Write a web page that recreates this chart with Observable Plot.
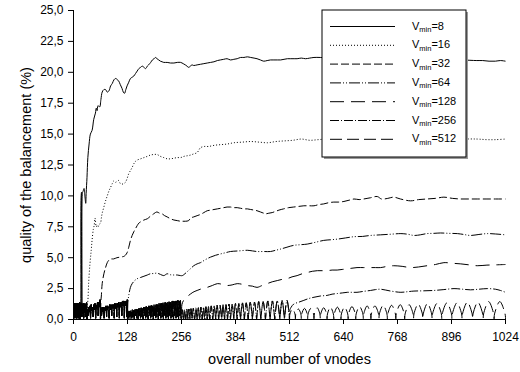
<!DOCTYPE html>
<html><head><meta charset="utf-8">
<script src="https://cdn.jsdelivr.net/npm/d3@7"></script>
<script src="https://cdn.jsdelivr.net/npm/@observablehq/plot@0.6"></script>
<style>body{margin:0;background:#fff;font-family:"Liberation Sans",Arial,sans-serif}</style>
</head><body><div id="chart"></div>
<script>
const xTicks = [0,128,256,384,512,640,768,896,1024];
const yTicks = [0,2.5,5,7.5,10,12.5,15,17.5,20,22.5,25];
const xTitle = "overall number of vnodes";
const yTitle = "quality of the balancement (%)";
const vmins = [8,16,32,64,128,256,512];
const takeoffs = [17,32,64,128,256,512,1025];
const dashes = ["none","1,2","8,3","11,2,1,2,1,2","14,7","9,2,1,2","12,5"];

// common low sawtooth band [x, y] (each series follows it until it takes off)
const band = [[0,0],[0.5,1.2],[1,0.3],[1.5,1.3],[2,0.6],[2.5,1.1],[3,0.1],[3.5,1.3],[4,0.8],[4.5,1.2],[5,0.2],[5.5,1.3],[6,0.7],[6.5,1.0],[7,0.1],[7.5,1.2],[8,0.5],[8.5,1.3],[9,0.2],[9.5,1.1],[10,0.8],[10.5,1.3],[11,0.1],[11.5,1.2],[12,0.6],[12.5,1.3],[13,0.3],[13.5,1.1],[14,0.9],[14.5,1.4],[15,0.2],[15.5,1.3],[16,0],
[17,1.1],[18,0.5],[19,1.3],[20,0.2],[21,1.2],[22,0.7],[23,1.3],[24,0.1],[25,1.0],[26,0.6],[27,1.3],[28,0.2],[29,1.2],[30,0.8],[31,1.4],[32,0],
[33,0.8],[34.5,0.3],[36,1.0],[37.5,0.6],[39,1.1],[40.5,0.1],[42,1.2],[43.5,0.7],[45,1.0],[46.5,0.2],[48,1.2],[49.5,0.8],[51,1.3],[52.5,0.1],[54,1.2],[55.5,0.9],[57,1.4],[58.5,0.3],[60,1.4],[61.5,1.0],[63,1.6],[64,0],
[65,0.9],[66.5,0.3],[68,1.0],[69.5,0.6],[71,1.0],[72.5,0.1],[74,1.0],[75.5,0.7],[77,1.1],[78.5,0.2],[80,1.1],[81.5,0.8],[83,1.1],[84.5,0.1],[86,1.2],[87.5,0.8],[89,1.2],[90.5,0.3],[92,1.2],[93.5,0.9],[95,1.2],[96.5,0.1],[98,1.3],[99.5,0.9],[101,1.3],[102.5,0.2],[104,1.3],[105.5,1.0],[107,1.4],[108.5,0.1],[110,1.4],[111.5,1.0],[113,1.4],[114.5,0.3],[116,1.5],[117.5,1.1],[119,1.5],[120.5,0.1],[122,1.5],[123.5,1.1],[125,1.5],[126.5,0.2],[127.5,1.6],[128,0],
[129,0.6],[130,0.1],[131,0.7],[132,0.2],[133,0.65],[134,0.05],[135,0.7],[136,0.3],[137,0.75],[138,0.1],[139.5,0.8],[141,0.2],[142.5,0.75],[144,0.05],[145.5,0.8],[147,0.3],[148.5,0.85],[150,0.1],[151.5,0.8],[153,0.05],[154.5,0.9],[156,0.3],[157.5,0.9],[159,0.1],[160.5,0.95],[162,0.2],[163.5,0.9],[165,0.05],[166.5,1.0],[168,0.3],[169.5,1.0],[171,0.1],[172.5,1.05],[174,0.2],[175.5,1.0],[177,0.05],[178.5,1.1],[180,0.3],[181.5,1.1],[183,0.1],[184.5,1.15],[186,0.2],[187.5,1.1],[189,0.05],[190.5,1.2],[192,0.3],[193.5,1.2],[195,0.1],[196.5,1.25],[198,0.2],[199.5,1.2],[201,0.05],[202.5,1.3],[204,0.3],[205.5,1.3],[207,0.1],[208.5,1.3],[210,0.2],[211.5,1.35],[213,0.05],[214.5,1.35],[216,0.3],[217.5,1.4],[219,0.1],[220.5,1.35],[222,0.2],[223.5,1.4],[225,0.05],[226.5,1.45],[228,0.3],[229.5,1.4],[231,0.1],[232.5,1.45],[234,0.2],[235.5,1.5],[237,0.05],[238.5,1.45],[240,0.3],[241.5,1.5],[243,0.1],[244.5,1.5],[246,0.2],[247.5,1.55],[249,0.05],[250.5,1.5],[252,0.3],[253.5,1.55],[255,0.1],[256,0],
[258.5,0.8],[261,0.05],[263.5,0.8],[266,0.05],[268.5,0.85],[271,0.05],[273.5,0.85],[276,0.05],[278.5,0.9],[281,0.05],[284,0.9],[287,0.05],[290,0.95],[293,0.05],[296,0.95],[299,0.05],[302,1.0],[305,0.05],[308,1.0],[311,0.05],[314,1.05],[317,0.05],[320,1.05],[323,0.05],[326.5,1.1],[330,0.05],
[331,0.4],[333.5,1.1],[336,0.4],[337,0.05],[338,0.4],[340.5,1.15],[343,0.4],[344,0.05],[345,0.4],[347.5,1.15],[350,0.4],[351,0.05],[352,0.4],[354.5,1.2],[357,0.4],[358,0.05],[359,0.4],[361.5,1.2],[364,0.4],[365,0.05],[366,0.4],[368.5,1.25],[371,0.4],[372,0.05],[373,0.4],[376,1.25],[379,0.4],[380,0.05],[381,0.4],[384,1.3],[387,0.4],[388,0.05],[389,0.4],[392,1.3],[395,0.4],[396,0.05],[397,0.4],[400.5,1.35],[404,0.4],[405,0.05],[406,0.4],[409.5,1.35],[413,0.4],[414,0.05],[415,0.4],[419,1.4],[423,0.4],[424,0.05],[425,0.4],[429,1.4],[433,0.4],[434,0.05],[435,0.4],[439,1.45],[443,0.4],[444,0.05],[445,0.4],[449.5,1.45],[454,0.4],[455,0.05],[456,0.4],[460.5,1.5],[465,0.4],[466,0.05],[467,0.4],[471.5,1.5],[476,0.4],[477,0.05],[478,0.4],[483,1.5],[488,0.4],[489,0.05],[490,0.4],[494.5,1.55],[499,0.4],[500,0.05],[501,0.4],[506,1.55],[511,0.5],[512,0],
[513,0.45],[519,0.85],[525,0.45],[526,0.05],[527,0.45],[533,0.85],[539,0.45],[540,0.05],[541,0.45],[547.5,0.9],[554,0.45],[555,0.05],[556,0.45],[562.5,0.9],[569,0.45],[570,0.05],[571,0.45],[577.5,0.95],[584,0.45],[585,0.05],[586,0.45],[593,0.95],[600,0.45],[601,0.05],[602,0.45],[609,1.0],[616,0.45],[617,0.05],[618,0.45],[625.5,1.0],[633,0.45],[634,0.05],[635,0.45],[642.5,1.0],[650,0.45],[651,0.05],[652,0.45],[660,1.05],[668,0.45],[669,0.05],[670,0.45],[678,1.05],[686,0.45],[687,0.05],[688,0.45],[696,1.1],[704,0.45],[705,0.05],[706,0.45],[714.5,1.1],[723,0.45],[724,0.05],[725,0.45],[734,1.15],[743,0.45],[744,0.05],[745,0.45],[754,1.15],[763,0.45],[764,0.05],[765,0.45],[774.5,1.2],[784,0.45],[785,0.05],[786,0.45],[795.5,1.2],[805,0.45],[806,0.05],[807,0.45],[817,1.25],[827,0.45],[828,0.05],[829,0.45],[839,1.3],[849,0.45],[850,0.05],[851,0.45],[861.5,1.3],[872,0.45],[873,0.05],[874,0.45],[885,1.35],[896,0.45],[897,0.05],[898,0.45],[909,1.35],[920,0.45],[921,0.05],[922,0.45],[933.5,1.4],[945,0.45],[946,0.05],[947,0.45],[958.5,1.4],[970,0.45],[971,0.05],[972,0.45],[984,1.45],[996,0.45],[997,0.05],[998,0.45],[1010.5,1.45],[1023,0.45],[1024,0]];

const v8X = [17,18,19,20,21,23,25,27,29,30,32,34,37,40,44,48,52,54,56,58,62,65,68,72,76,80,84,88,92,96,100,104,107,111,115,118,121,124,127,131,135,139,143,147,151,155,159,163,167,171,175,178,183,187,191,194,198,202,206,210,214,222,230,238,246,254,260,265,269,273,277,281,285,293,301,309,317,325,333,341,348,356,364,372,380,388,396,404,412,420,428,435,443,451,459,467,475,483,491,499,507,515,523,530,540,550,560,570,585,620,680,740,800,860,920,956,970,985,1000,1012,1024];
const v8Y = [0.5,9.9,10.3,0.3,10.2,10.4,10.6,10.0,9.4,10.2,11.5,13.1,14.2,15.0,15.3,16.2,16.7,17.1,16.9,17.3,17.2,17.8,18.4,18.6,18.6,18.4,18.5,18.9,19.1,19.4,19.5,19.4,19.3,19.0,18.7,18.4,18.3,18.6,18.9,19.2,19.5,19.6,19.7,19.9,20.1,20.3,20.4,20.5,20.4,20.3,20.5,20.6,20.8,21.0,21.1,21.2,21.1,21.0,20.9,20.85,20.8,20.8,20.75,20.75,20.8,20.8,20.7,20.6,20.5,20.4,20.5,20.6,20.55,20.6,20.65,20.7,20.75,20.8,20.85,20.95,21.0,21.05,21.1,21.0,21.05,21.1,21.2,21.2,21.25,21.2,21.15,21.1,21.0,20.9,20.95,21.0,21.0,21.0,21.0,21.05,21.1,21.1,21.1,21.1,21.15,21.1,21.15,21.2,21.2,21.1,21.0,21.05,21.0,21.05,21.0,20.95,20.95,20.9,20.9,20.95,20.9];

const v16X = [32,33,34,36,39,42,44,47,49,51,52,54,56,58,61,64,66,68,72,76,80,84,88,92,95,98,100,104,107,111,115,119,123,127,131,135,139,143,147,151,159,167,175,182,190,198,206,214,222,230,238,246,254,262,270,277,285,293,297,301,310,320,335,350,365,380,400,420,440,460,480,500,520,540,560,580,600,700,800,900,956,980,1000,1024];
const v16Y = [0,1.3,1.5,3.0,4.5,5.6,6.4,7.3,7.6,8.2,8.0,7.5,7.6,7.5,7.7,7.8,8.2,8.6,9.1,9.6,10.0,10.4,10.7,11.0,11.2,11.1,11.1,11.2,11.25,11.0,10.95,11.0,11.1,11.4,11.8,12.05,12.3,12.6,12.8,12.9,13.0,13.1,13.2,13.3,13.35,13.35,13.2,13.1,13.0,13.0,13.05,13.1,13.1,13.2,13.25,13.3,13.4,13.5,13.7,13.9,14.0,14.0,14.1,14.15,14.2,14.3,14.35,14.4,14.35,14.3,14.4,14.45,14.5,14.6,14.5,14.55,14.6,14.6,14.6,14.6,14.6,14.55,14.55,14.6];

const v32X = [64,65,66,68,72,76,80,84,90,95,103,111,119,123,127,131,135,139,143,147,151,155,159,167,175,182,190,194,198,204,210,216,222,230,238,246,254,258,265,273,277,285,293,301,309,317,325,333,341,349,356,364,372,380,388,396,404,412,420,428,435,443,451,455,463,471,479,487,498,510,522,534,546,558,570,582,593,605,617,629,641,653,665,677,688,704,720,730,745,759,775,799,818,838,858,878,898,918,938,957,980,1000,1024];
const v32Y = [0,1.5,1.9,2.9,3.7,4.2,4.6,4.8,4.9,4.9,5.0,5.05,5.1,5.2,5.4,5.85,6.4,6.8,7.1,7.35,7.6,7.8,7.9,8.05,8.15,8.35,8.55,8.65,8.7,8.6,8.55,8.4,8.3,8.15,8.05,8.0,7.95,7.95,7.95,8.0,8.2,8.3,8.4,8.5,8.65,8.8,8.85,8.9,8.95,9.0,9.05,9.1,9.1,9.05,9.05,9.0,8.95,8.95,8.9,8.85,8.8,8.7,8.6,8.55,8.6,8.65,8.75,8.85,8.95,9.05,9.1,9.15,9.2,9.2,9.2,9.3,9.35,9.45,9.5,9.5,9.55,9.65,9.75,9.7,9.75,9.85,9.95,9.75,9.8,9.9,9.75,9.6,9.7,9.75,9.8,9.9,9.8,9.75,9.75,9.75,9.75,9.75,9.75];

const v64X = [128,129,131,135,139,145,151,159,167,175,182,190,198,206,214,222,230,238,246,254,258,264,269,277,285,293,301,313,325,337,348,360,372,392,412,424,435,451,467,479,491,506,522,538,554,574,593,609,625,645,665,685,704,728,752,776,792,807,822,838,854,870,890,910,925,941,961,981,1000,1024];
const v64Y = [0,1.4,1.95,2.6,2.9,3.15,3.3,3.4,3.5,3.6,3.7,3.72,3.75,3.65,3.55,3.7,3.62,3.6,3.6,3.55,3.55,3.7,3.85,4.1,4.35,4.5,4.6,4.85,5.05,5.2,5.3,5.4,5.5,5.55,5.6,5.55,5.5,5.5,5.5,5.6,5.7,5.85,6.0,6.05,6.1,6.25,6.4,6.45,6.5,6.6,6.7,6.72,6.8,6.85,6.9,6.95,6.9,6.8,6.85,6.95,6.97,7.0,6.97,6.95,6.88,6.8,6.88,6.95,6.92,6.85];

const v128X = [256,257,261,267,273,283,293,305,317,329,341,352,364,376,388,400,412,424,435,447,459,471,483,495,506,518,530,542,554,566,578,590,601,613,625,637,649,660,672,688,704,716,728,744,759,779,799,818,838,858,878,898,918,938,957,980,1000,1024];
const v128Y = [0,1.2,1.55,1.8,1.95,2.2,2.35,2.5,2.6,2.75,2.9,2.85,2.75,2.8,2.9,2.85,2.75,2.7,2.6,2.75,2.9,3.05,3.15,3.25,3.3,3.45,3.55,3.7,3.8,3.9,3.95,3.95,3.95,4.0,4.0,4.05,4.1,4.15,4.2,4.2,4.2,4.2,4.2,4.3,4.35,4.3,4.2,4.25,4.35,4.45,4.6,4.55,4.5,4.42,4.35,4.4,4.42,4.45];

const v256X = [512,513,516,522,534,546,558,570,585,601,613,625,637,649,660,672,688,704,716,728,752,776,792,807,830,854,878,902,922,941,961,981,1000,1012,1024];
const v256Y = [0,0.8,1.0,1.25,1.4,1.55,1.7,1.8,1.9,1.95,2.05,2.1,2.15,2.2,2.2,2.2,2.28,2.35,2.42,2.45,2.3,2.2,2.25,2.3,2.32,2.35,2.42,2.5,2.45,2.4,2.45,2.5,2.45,2.35,2.2];

const ownX = [v8X,v16X,v32X,v64X,v128X,v256X,[]];
const ownY = [v8Y,v16Y,v32Y,v64Y,v128Y,v256Y,[]];

function seriesData(i) {
  const pts = [];
  band.forEach(([x, y]) => { if (x < takeoffs[i]) pts.push({x, y}); });
  ownX[i].forEach((x, k) => pts.push({x, y: ownY[i][k]}));
  return pts;
}

const fmt = d => d.toFixed(1).replace(".", ",");

const lines = vmins.map((v, i) => Plot.line(seriesData(i), {
  x: "x", y: "y", stroke: "black", strokeWidth: 1,
  strokeDasharray: dashes[i] === "none" ? null : dashes[i],
  strokeLinecap: "butt", strokeLinejoin: "round",
  curve: "catmull-rom"
}));

const svg = Plot.plot({
  width: 520, height: 372,
  marginLeft: 73, marginRight: 15, marginTop: 10, marginBottom: 53,
  style: {fontFamily: "'Liberation Sans', Arial, sans-serif", fontSize: "12px", background: "white", color: "black"},
  x: {domain: [0, 1024]},
  y: {domain: [0, 25]},
  marks: [
    ...lines.slice().reverse(),
    Plot.ruleX([0], {stroke: "black"}),
    Plot.ruleY([0], {stroke: "black"}),
    Plot.axisX({ticks: xTicks, tickSize: 5, tickPadding: 8, tickFormat: d => String(d), label: null, fontSize: 12}),
    Plot.axisY({ticks: yTicks, tickSize: 5, tickPadding: 5, tickFormat: fmt, label: null, fontSize: 12}),
    Plot.text([xTitle], {text: d => d, frameAnchor: "bottom", dy: 44, fontSize: 14.5, textAnchor: "middle"}),
    Plot.text([yTitle], {text: d => d, frameAnchor: "left", rotate: -90, dx: -47, fontSize: 14.5, textAnchor: "middle"})
  ]
});
document.getElementById("chart").appendChild(svg);

// legend box
const lg = d3.select(svg).append("g").attr("class", "legend")
  .attr("text-anchor", "start").attr("fill", "black");
const bx = 322, by = 10, bw = 144, bh = 147;
lg.append("rect").attr("x", bx + 2).attr("y", by + 2).attr("width", bw).attr("height", bh).attr("fill", "#999");
lg.append("rect").attr("x", bx).attr("y", by).attr("width", bw).attr("height", bh).attr("fill", "white").attr("stroke", "black").attr("stroke-width", 1);
vmins.forEach((v, i) => {
  const yy = 26.5 + i * 18.8;
  lg.append("line").attr("x1", 330).attr("x2", 395).attr("y1", yy).attr("y2", yy)
    .attr("stroke", "black").attr("stroke-width", 1)
    .attr("stroke-dasharray", dashes[i] === "none" ? null : dashes[i]);
  const t = lg.append("text").attr("x", 412).attr("y", yy + 3).attr("font-size", 11)
    .attr("text-anchor", "start").attr("fill", "black")
    .attr("font-family", "'Liberation Sans', Arial, sans-serif");
  t.append("tspan").text("V");
  t.append("tspan").attr("font-size", 7.5).attr("dy", 2.5).text("min");
  t.append("tspan").attr("font-size", 11).attr("dy", -2.5).text("=" + v);
});
</script>
</body></html>
